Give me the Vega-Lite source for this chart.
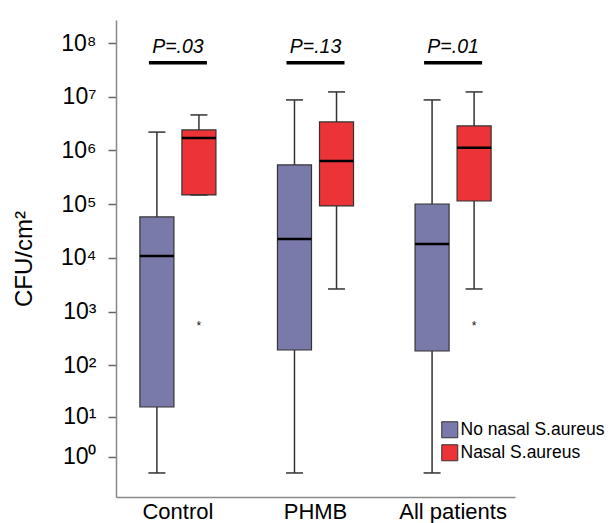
{
  "$schema": "https://vega.github.io/schema/vega-lite/v6.json",
  "width": 399,
  "height": 477,
  "autosize": {"type": "none"},
  "padding": {"left": 116, "top": 20, "right": 93, "bottom": 26},
  "background": "white",
  "config": {
    "view": {"stroke": null},
    "font": "Liberation Sans",
    "axis": {"labelFont": "Liberation Sans", "titleFont": "Liberation Sans"}
  },
  "datasets": {
    "boxes": [
      {"group": "Control", "status": "No nasal S.aureus", "lower": 0, "q1": 15.9, "median": 10900, "q3": 58000, "upper": 2200000},
      {"group": "Control", "status": "Nasal S.aureus", "lower": 149000, "q1": 149000, "median": 1710000, "q3": 2410000, "upper": 4590000},
      {"group": "PHMB", "status": "No nasal S.aureus", "lower": 0, "q1": 193, "median": 22600, "q3": 539000, "upper": 8730000},
      {"group": "PHMB", "status": "Nasal S.aureus", "lower": 2650, "q1": 93000, "median": 640000, "q3": 3400000, "upper": 12300000},
      {"group": "All patients", "status": "No nasal S.aureus", "lower": 0, "q1": 185, "median": 18250, "q3": 101000, "upper": 8730000},
      {"group": "All patients", "status": "Nasal S.aureus", "lower": 2650, "q1": 115000, "median": 1120000, "q3": 2860000, "upper": 12300000}
    ],
    "outliers": [
      {"group": "Control", "status": "Nasal S.aureus", "value": 645},
      {"group": "All patients", "status": "Nasal S.aureus", "value": 645}
    ],
    "pvals": [
      {"group": "Control", "label": "P=.03", "ytext": 84500000, "ybar": 43000000},
      {"group": "PHMB", "label": "P=.13", "ytext": 84500000, "ybar": 43000000},
      {"group": "All patients", "label": "P=.01", "ytext": 84500000, "ybar": 43000000}
    ]
  },
  "encoding": {
    "x": {
      "field": "group", "type": "nominal",
      "scale": {"domain": ["Control", "PHMB", "All patients"], "paddingInner": 0.2, "paddingOuter": 0.05},
      "axis": {
        "title": null, "labelAngle": 0, "ticks": false, "labelPadding": 4,
        "labelFontSize": 22, "labelColor": "#000", "domainColor": "#888", "domainWidth": 1.5
      }
    }
  },
  "layer": [
    {
      "data": {"name": "boxes"},
      "mark": {"type": "rule", "color": "#333", "strokeWidth": 1.5},
      "encoding": {
        "xOffset": {"field": "status", "type": "nominal", "scale": {"domain": ["No nasal S.aureus", "Nasal S.aureus"], "paddingInner": 0.19, "paddingOuter": 0.4045}},
        "y": {
          "field": "lower", "type": "quantitative",
          "scale": {"type": "symlog", "constant": 1, "domain": [-1.8, 268000000], "nice": false, "zero": false},
          "axis": {
            "title": "CFU/cm²", "titleFontSize": 24, "titleFontWeight": "normal", "titleColor": "#000", "titlePadding": 24,
            "values": [1, 10, 100, 1000, 10000, 100000, 1000000, 10000000, 100000000],
            "labelExpr": "'10' + ['⁰','¹','²','³','⁴','⁵','⁶','⁷','⁸'][round(log(datum.value)/LN10)]",
            "labelFontSize": 23, "labelColor": "#000", "labelPadding": 12,
            "tickSize": 8, "tickColor": "#666", "tickWidth": 1.5,
            "domainColor": "#888", "domainWidth": 1.5, "grid": false
          }
        },
        "y2": {"field": "upper"}
      }
    },
    {
      "data": {"name": "boxes"},
      "mark": {"type": "bar", "stroke": "#333", "strokeWidth": 1.2, "opacity": 1},
      "encoding": {
        "xOffset": {"field": "status", "type": "nominal"},
        "y": {"field": "q1", "type": "quantitative"},
        "y2": {"field": "q3"},
        "color": {
          "field": "status", "type": "nominal",
          "scale": {"domain": ["No nasal S.aureus", "Nasal S.aureus"], "range": ["#7a7aaa", "#ec3338"]},
          "legend": {
            "title": null, "orient": "none", "legendX": 325, "legendY": 401,
            "symbolType": "square", "symbolSize": 256, "symbolStrokeColor": "#333", "symbolStrokeWidth": 1, "symbolOpacity": 1,
            "labelFontSize": 17.5, "labelColor": "#000", "labelOffset": 2, "rowPadding": 2, "padding": 0
          }
        }
      }
    },
    {
      "data": {"name": "boxes"},
      "mark": {"type": "tick", "color": "#000", "thickness": 2.5, "size": 34, "opacity": 1},
      "encoding": {
        "xOffset": {"field": "status", "type": "nominal"},
        "y": {"field": "median", "type": "quantitative"}
      }
    },
    {
      "data": {"name": "boxes"},
      "mark": {"type": "tick", "color": "#333", "thickness": 1.5, "size": 17, "opacity": 1},
      "encoding": {
        "xOffset": {"field": "status", "type": "nominal"},
        "y": {"field": "upper", "type": "quantitative"}
      }
    },
    {
      "data": {"name": "boxes"},
      "mark": {"type": "tick", "color": "#333", "thickness": 1.5, "size": 17, "opacity": 1},
      "encoding": {
        "xOffset": {"field": "status", "type": "nominal"},
        "y": {"field": "lower", "type": "quantitative"}
      }
    },
    {
      "data": {"name": "outliers"},
      "mark": {"type": "text", "text": "*", "fontSize": 12, "baseline": "middle", "dy": 4, "color": "#111"},
      "encoding": {
        "xOffset": {"field": "status", "type": "nominal"},
        "y": {"field": "value", "type": "quantitative"}
      }
    },
    {
      "data": {"name": "pvals"},
      "mark": {"type": "text", "fontSize": 19.5, "fontStyle": "italic", "baseline": "middle", "color": "#000"},
      "encoding": {
        "y": {"field": "ytext", "type": "quantitative"},
        "text": {"field": "label"}
      }
    },
    {
      "data": {"name": "pvals"},
      "mark": {"type": "tick", "color": "#000", "thickness": 3.5, "size": 58, "opacity": 1},
      "encoding": {
        "y": {"field": "ybar", "type": "quantitative"}
      }
    }
  ]
}
